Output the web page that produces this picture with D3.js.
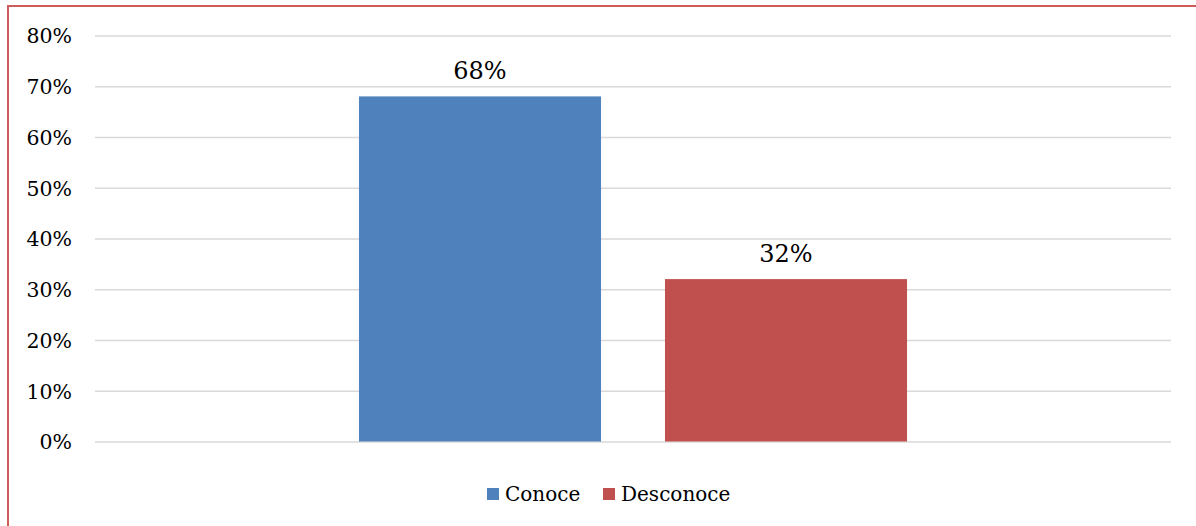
<!DOCTYPE html>
<html>
<head>
<meta charset="utf-8">
<script src="https://cdn.jsdelivr.net/npm/d3@7"></script>
<style>
  html, body { margin: 0; padding: 0; background: #fff; }
  svg { display: block; }
</style>
</head>
<body>
<svg id="chart" width="1196" height="526"></svg>
<script>
// Survey answers: share of respondents who know / don't know
const series = ["Conoce", "Desconoce"];
const values = [68, 32];
const colors = ["#4f81bd", "#c0504d"];
const yTicks = [0, 10, 20, 30, 40, 50, 60, 70, 80];

const svg = d3.select("#chart");
const font = "DejaVu Serif";

// Chart frame (only top and left edges fall inside the view)
svg.append("rect")
  .attr("x", 8).attr("y", 6)
  .attr("width", 1400).attr("height", 700)
  .attr("fill", "none")
  .attr("stroke", "#cd5c5a")
  .attr("stroke-width", 2);

const plot = { left: 95, right: 1171, top: 35.5, bottom: 441.5 };

const y = d3.scaleLinear().domain([0, 80]).range([plot.bottom, plot.top]);

const x = d3.scaleBand()
  .domain(series)
  .range([plot.left, plot.right])
  .paddingInner(0.209)
  .paddingOuter(0.8627);

// Gridlines and tick labels
const yAxis = d3.axisLeft(y)
  .tickValues(yTicks)
  .tickSize(-(plot.right - plot.left))
  .tickPadding(23)
  .tickFormat(d => d + "%");

const gAxis = svg.append("g")
  .attr("transform", `translate(${plot.left},0)`)
  .call(yAxis);
gAxis.select(".domain").remove();
gAxis.selectAll(".tick line")
  .attr("stroke", "#d9d9d9")
  .attr("stroke-width", 1.6);
gAxis.selectAll(".tick text")
  .attr("fill", "#000")
  .attr("font-family", font)
  .attr("font-size", 20.5)
  .attr("dy", "0.36em");

// Bars
svg.append("g").selectAll("rect")
  .data(series)
  .join("rect")
  .attr("x", d => x(d))
  .attr("y", (d, i) => y(values[i]))
  .attr("width", x.bandwidth())
  .attr("height", (d, i) => y(0) - y(values[i]))
  .attr("fill", (d, i) => colors[i]);

// Value labels
svg.append("g").selectAll("text")
  .data(series)
  .join("text")
  .attr("x", d => x(d) + x.bandwidth() / 2)
  .attr("y", (d, i) => y(values[i]) - 17)
  .attr("text-anchor", "middle")
  .attr("font-family", font)
  .attr("font-size", 24)
  .attr("fill", "#000")
  .text((d, i) => values[i] + "%");

// Legend
const legendItems = [
  { name: series[0], color: colors[0], x: 487 },
  { name: series[1], color: colors[1], x: 603 }
];
const legend = svg.append("g");
legendItems.forEach(item => {
  legend.append("rect")
    .attr("x", item.x).attr("y", 488)
    .attr("width", 12).attr("height", 12)
    .attr("fill", item.color);
  legend.append("text")
    .attr("x", item.x + 18).attr("y", 501)
    .attr("font-family", font)
    .attr("font-size", 20)
    .attr("fill", "#000")
    .text(item.name);
});
</script>
</body>
</html>
